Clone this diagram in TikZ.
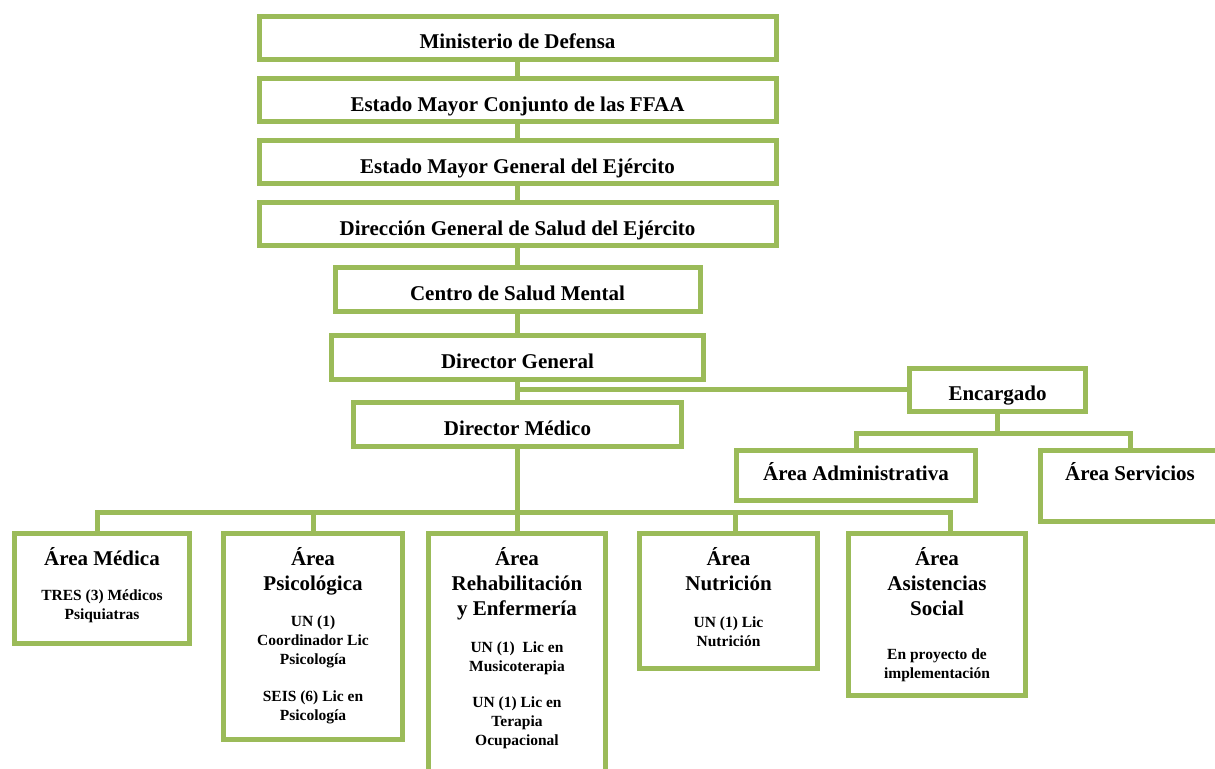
\documentclass[tikz,border=0pt]{standalone}
\usepackage{fontspec}
\setmainfont{Liberation Serif}
\usetikzlibrary{positioning}
\definecolor{orggreen}{HTML}{9BBB59}

\begin{document}
\begin{tikzpicture}[
  x=0.5pt, y=-0.5pt,
  font=\bfseries,
  link/.style={draw=orggreen,line width=2.5pt},
  unit/.style={draw=orggreen,line width=2.5pt,fill=white,inner sep=0pt,
               font=\bfseries\fontsize{10.5}{12.5}\selectfont,
               text height=11pt,text depth=0pt},
  topunit/.style={unit,minimum width=258.5pt,minimum height=21.5pt},
  area/.style={draw=orggreen,line width=2.5pt,fill=white,inner sep=0pt},
  head/.style={align=center,inner sep=0pt,
               font=\bfseries\fontsize{10.5}{12.5}\selectfont},
  detail/.style={align=center,inner sep=0pt,
                 font=\bfseries\fontsize{7.75}{9.5}\selectfont}
]
\useasboundingbox (0,0) rectangle (1215,769);

% chain of command
\node[topunit] (minist) at (517.5,38) {Ministerio de Defensa};
\node[topunit] (conj) at (517.5,100.5) {Estado Mayor Conjunto de las FFAA};
\node[topunit] (gral) at (517.5,162.5) {Estado Mayor General del Ejército};
\node[topunit] (dirsal) at (517.5,224.5) {Dirección General de Salud del Ejército};
\node[unit,minimum width=182.5pt,minimum height=22pt] (centro) at (517.5,289.5)
  {Centro de Salud Mental};
\node[unit,minimum width=186pt,minimum height=22pt] (dirgen) at (517.5,357.5)
  {Director General};
\node[unit,minimum width=164pt,minimum height=22pt] (dirmed) at (517.5,424.5)
  {Director Médico};

% administrative branch
\node[unit,minimum width=88pt,minimum height=21.5pt] (encarg) at (997.5,390)
  {Encargado};
\node[unit,minimum width=119.5pt,minimum height=25pt,
      text height=7pt,text depth=1.5pt] (admin) at (856,475.5)
  {Área Administrativa};
\node[unit,minimum width=89.5pt,minimum height=35.5pt,
      text height=7pt,text depth=12pt] (serv) at (1130,486)
  {Área Servicios};

% clinical areas
\node[area,minimum width=87.5pt,minimum height=55pt] (medica) at (102,588.5) {};
\node[area,minimum width=89.5pt,minimum height=103pt] (psico) at (313,636.5) {};
\node[area,minimum width=88.5pt,minimum height=132pt] (rehab) at (517,665.5) {};
\node[area,minimum width=89pt,minimum height=67.5pt] (nutri) at (728.5,601) {};
\node[area,minimum width=88.5pt,minimum height=81pt] (asist) at (937,614.5) {};

\node[head,below=8pt of medica.north] (medica-h) {Área Médica};
\node[detail,below=29pt of medica.north] (medica-d) {TRES (3) Médicos\\Psiquiatras};
\node[head,below=8pt of psico.north] (psico-h) {Área\\Psicológica};
\node[detail,below=42pt of psico.north] (psico-d1) {UN (1)\\Coordinador Lic\\Psicología};
\node[detail,below=79.5pt of psico.north] (psico-d2) {SEIS (6) Lic en\\Psicología};
\node[head,below=8pt of rehab.north] (rehab-h) {Área\\Rehabilitación\\y Enfermería};
\node[detail,below=55pt of rehab.north] (rehab-d1) {UN (1)~~Lic en\\Musicoterapia};
\node[detail,below=82.5pt of rehab.north] (rehab-d2) {UN (1) Lic en\\Terapia\\Ocupacional};
\node[head,below=8pt of nutri.north] (nutri-h) {Área\\Nutrición};
\node[detail,below=42.5pt of nutri.north] (nutri-d) {UN (1) Lic\\Nutrición};
\node[head,below=8pt of asist.north] (asist-h) {Área\\Asistencias\\Social};
\node[detail,below=58.5pt of asist.north] (asist-d) {En proyecto de\\implementación};

\coordinate (encjoin) at (997.5,434);
\coordinate (busmid) at (517.5,513);
\coordinate (medtop) at ([xshift=-2.5pt]medica.north);
\coordinate (nutritop) at ([xshift=3.25pt]nutri.north);
\coordinate (asisttop) at ([xshift=6.5pt]asist.north);

\draw[link] (minist) -- (conj);
\draw[link] (conj) -- (gral);
\draw[link] (gral) -- (dirsal);
\draw[link] (dirsal) -- (centro);
\draw[link] (centro) -- (dirgen);
\draw[link] (dirgen) -- (dirmed);
\draw[link] (dirgen.south |- encarg) -- (encarg.west);
\draw[link] (encarg.south) -- (encjoin);
\draw[link] (admin.north) |- (encjoin) -| (serv.north);
\draw[link] (dirmed.south) -- (dirmed.south |- rehab.north);
\draw[link] (medtop) |- (asisttop |- busmid) -- (asisttop);
\draw[link] (psico.north) -- (psico.north |- busmid);
\draw[link] (nutritop) -- (nutritop |- busmid);
\end{tikzpicture}
\end{document}
